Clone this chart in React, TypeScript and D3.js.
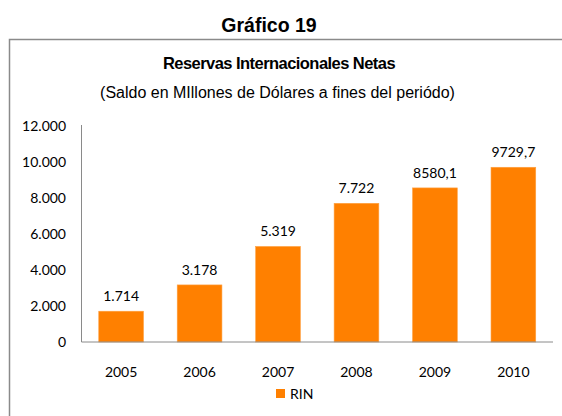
import React from "react";
import * as d3 from "d3";

const years = ["2005", "2006", "2007", "2008", "2009", "2010"];
const values = [1714, 3178, 5319, 7722, 8580.1, 9729.7];
const valueLabels = ["1.714", "3.178", "5.319", "7.722", "8580,1", "9729,7"];
const yTicks = [0, 2000, 4000, 6000, 8000, 10000, 12000];
const seriesName = "RIN";
const chartTitle = "Gráfico 19";
const title1 = "Reservas Internacionales Netas";
const title2 = "(Saldo en MIllones de Dólares a fines del periódo)";

const W = 562;
const H = 416;
const ORANGE = "#ff8000";
const numFont = "Lato, 'Open Sans', sans-serif";
const arial = "'Liberation Sans', Arial, sans-serif";

export default function App() {
  const x = d3.scaleBand<string>().domain(years).range([81.5, 553]).paddingInner(0.43).paddingOuter(0.22);
  const y = d3.scaleLinear().domain([0, 12000]).range([342, 126.5]);
  const loc = d3.formatLocale({ decimal: ",", thousands: ".", grouping: [3], currency: ["", ""] });
  const fmt = loc.format(",");

  return (
    <svg width={W} height={H} style={{ position: "absolute", left: 0, top: 0, background: "#fff" }}>
      <rect x={0} y={0} width={W} height={H} fill="#fff" />
      <text x={269} y={31.5} textAnchor="middle" fontFamily={arial} fontWeight="bold" fontSize={19.5} fill="#000">
        {chartTitle}
      </text>
      <rect x={9.5} y={39.5} width={700} height={500} fill="none" stroke="#8a8a8a" strokeWidth={1.5} />
      <text x={279} y={69.3} textAnchor="middle" fontFamily={arial} fontWeight="bold" fontSize={16.5} letterSpacing={-0.55} fill="#000">
        {title1}
      </text>
      <text x={277.5} y={97.5} textAnchor="middle" fontFamily={arial} fontSize={16} fill="#000">
        {title2}
      </text>
      {/* y tick labels */}
      {yTicks.map((t) => (
        <text key={t} x={66} y={y(t)} dy="0.35em" textAnchor="end" fontFamily={numFont} fontSize={14} fill="#000">
          {fmt(t)}
        </text>
      ))}
      {/* bars */}
      {years.map((yr, i) => (
        <rect
          key={yr}
          x={x(yr)}
          y={y(values[i])}
          width={x.bandwidth()}
          height={y(0) - y(values[i])}
          fill={ORANGE}
          stroke="#ffa040"
          strokeWidth={0.6}
        />
      ))}
      {/* value labels */}
      {years.map((yr, i) => (
        <text key={yr} x={(x(yr) as number) + x.bandwidth() / 2} y={y(values[i]) - 10} textAnchor="middle" fontFamily={numFont} fontSize={14} fill="#000">
          {valueLabels[i]}
        </text>
      ))}
      {/* axes */}
      <line x1={81.5} x2={81.5} y1={125} y2={342} stroke="#8a8a8a" strokeWidth={1} />
      <line x1={81.5} x2={553} y1={342} y2={342} stroke="#8a8a8a" strokeWidth={1} />
      {/* x labels */}
      {years.map((yr) => (
        <text key={yr} x={(x(yr) as number) + x.bandwidth() / 2} y={377} textAnchor="middle" fontFamily={numFont} fontSize={14} fill="#000">
          {yr}
        </text>
      ))}
      {/* legend */}
      <rect x={276} y={389} width={9} height={9} fill={ORANGE} />
      <text x={290} y={399} fontFamily={numFont} fontSize={14} fill="#000">
        {seriesName}
      </text>
    </svg>
  );
}
